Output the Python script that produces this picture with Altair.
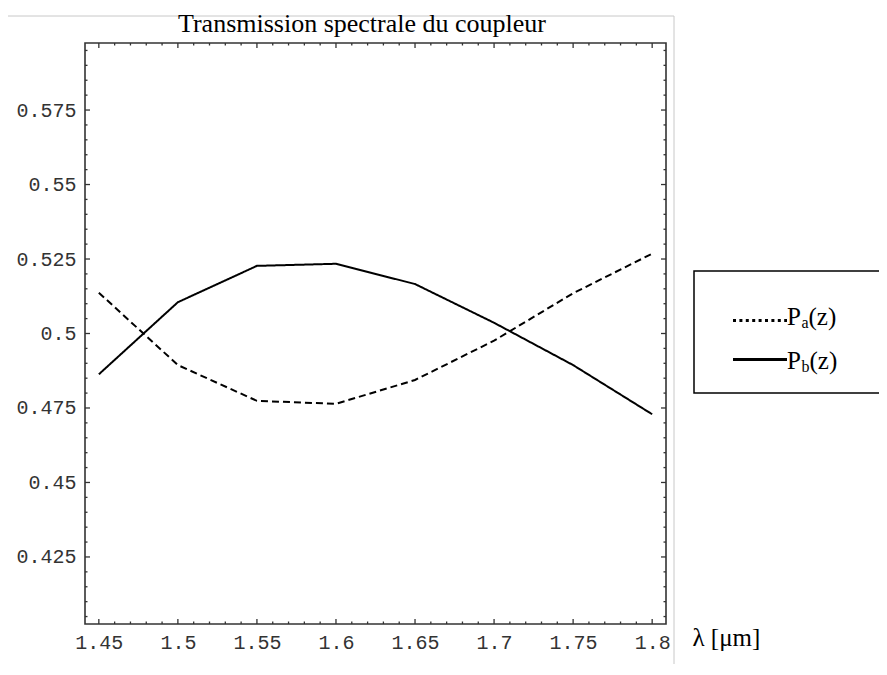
import altair as alt
import pandas as pd

# ---- data ----
wavelength = [1.45, 1.50, 1.55, 1.60, 1.65, 1.70, 1.75, 1.80]
p_a = [0.5137, 0.4894, 0.4774, 0.4764, 0.4844, 0.4976, 0.5135, 0.5268]
p_b = [0.4863, 0.5105, 0.5227, 0.5234, 0.5166, 0.5036, 0.4894, 0.4729]
series_names = ["Pa", "Pb"]

x_ticks = [1.45, 1.5, 1.55, 1.6, 1.65, 1.7, 1.75, 1.8]
y_ticks = [0.425, 0.45, 0.475, 0.5, 0.525, 0.55, 0.575]
x_minor = [round(1.45 + 0.01 * i, 2) for i in range(36) if i % 5]
y_minor = [round(0.40 + 0.005 * i, 3) for i in range(1, 40) if i % 5]

title_text = "Transmission spectrale du coupleur"
x_title = "λ [μm]"

# ---- layout ----
W, H = 581, 581
FRAME = "#333333"
SERIF = "Liberation Serif"
MONO = "Liberation Mono"

xs = alt.Scale(domain=[1.44125, 1.80875], nice=False, zero=False)
ys = alt.Scale(domain=[0.4025, 0.5975], nice=False, zero=False)

x_axis = alt.Axis(
    values=x_ticks, format=".4~g", ticks=False, tickSize=0, domain=False, grid=False,
    labelFont=MONO, labelFontSize=20, labelColor="#333", labelPadding=8,
    labelFlush=False,
    title=x_title, titleFont=SERIF, titleFontSize=25, titleFontWeight="normal",
    titleColor="black", titleX=607, titleY=21, titleAlign="left",
    titleBaseline="alphabetic")
y_axis = alt.Axis(
    values=y_ticks, format=".4~g", ticks=False, tickSize=0, domain=False, grid=False,
    labelFont=MONO, labelFontSize=20, labelColor="#333", labelPadding=9,
    labelFlush=False, title=None)

df = pd.DataFrame({
    "x": wavelength + wavelength,
    "y": p_a + p_b,
    "s": [series_names[0]] * len(wavelength) + [series_names[1]] * len(wavelength),
})

lines = alt.Chart(df).mark_line(color="black", strokeWidth=2).encode(
    x=alt.X("x:Q", scale=xs, axis=x_axis),
    y=alt.Y("y:Q", scale=ys, axis=y_axis),
    strokeDash=alt.StrokeDash("s:N", scale=alt.Scale(domain=series_names,
                                                     range=[[7, 4], [1, 0]]), legend=None),
    order="x:Q",
)


def xticks(vals, length, top):
    d = pd.DataFrame({"x": vals})
    y0, y1 = (0, length) if top else (H, H - length)
    return alt.Chart(d).mark_rule(color=FRAME, strokeWidth=1.3).encode(
        x=alt.X("x:Q", scale=xs, axis=x_axis), y=alt.value(y0), y2=alt.value(y1))


def yticks(vals, length, right):
    d = pd.DataFrame({"y": vals})
    x0, x1 = (W, W - length) if right else (0, length)
    return alt.Chart(d).mark_rule(color=FRAME, strokeWidth=1.3).encode(
        y=alt.Y("y:Q", scale=ys, axis=y_axis), x=alt.value(x0), x2=alt.value(x1))


ticks = [
    xticks(x_ticks, 5, False), xticks(x_minor, 2.5, False),
    xticks(x_ticks, 5, True), xticks(x_minor, 2.5, True),
    yticks(y_ticks, 5, False), yticks(y_minor, 2.5, False),
    yticks(y_ticks, 5, True), yticks(y_minor, 2.5, True),
]

one = pd.DataFrame({"k": [0]})

# light grey outer border (top and right)
border_top = alt.Chart(one).mark_rule(color="#c8c8c8", strokeWidth=1).encode(
    x=alt.value(-77), x2=alt.value(589), y=alt.value(-27))
border_right = alt.Chart(one).mark_rule(color="#c8c8c8", strokeWidth=1).encode(
    x=alt.value(589), y=alt.value(-27), y2=alt.value(H + 60))

# frame
frame = alt.Chart(one).mark_rect(fill=None, stroke=FRAME, strokeWidth=1.6).encode(
    x=alt.value(0), x2=alt.value(W), y=alt.value(0), y2=alt.value(H))

# legend box
box = alt.Chart(one).mark_rect(fill="white", stroke="black", strokeWidth=1.5).encode(
    x=alt.value(609), x2=alt.value(830), y=alt.value(228), y2=alt.value(350))
leg_a = alt.Chart(one).mark_rule(color="black", strokeWidth=3, strokeDash=[3, 3.4]).encode(
    x=alt.value(648), x2=alt.value(702), y=alt.value(277.5))
leg_b = alt.Chart(one).mark_rule(color="black", strokeWidth=3).encode(
    x=alt.value(648), x2=alt.value(702), y=alt.value(316.5))


def txt(s, x, y, size, align="left"):
    return alt.Chart(one).mark_text(font=SERIF, fontSize=size, align=align,
                                    baseline="alphabetic", color="black").encode(
        x=alt.value(x), y=alt.value(y), text=alt.value(s))


legend_texts = [
    txt("P", 702, 282, 25), txt("a", 716.5, 285, 16), txt("(z)", 723.5, 282, 25),
    txt("P", 702, 326, 25), txt("b", 716.5, 329, 16), txt("(z)", 724.5, 326, 25),
]

title_mark = txt(title_text, 277, -11, 26, align="center")

chart = alt.layer(
    border_top, border_right, lines, *ticks, frame, box, leg_a, leg_b, *legend_texts,
    title_mark
).properties(
    width=W, height=H,
    autosize=alt.AutoSizeParams(type="none"),
    padding={"left": 77, "top": 35, "right": 213, "bottom": 40},
    background="white",
).configure_view(stroke=None, fill="white")

chart.save("out.html", embed_options={"renderer": "svg", "actions": False})
